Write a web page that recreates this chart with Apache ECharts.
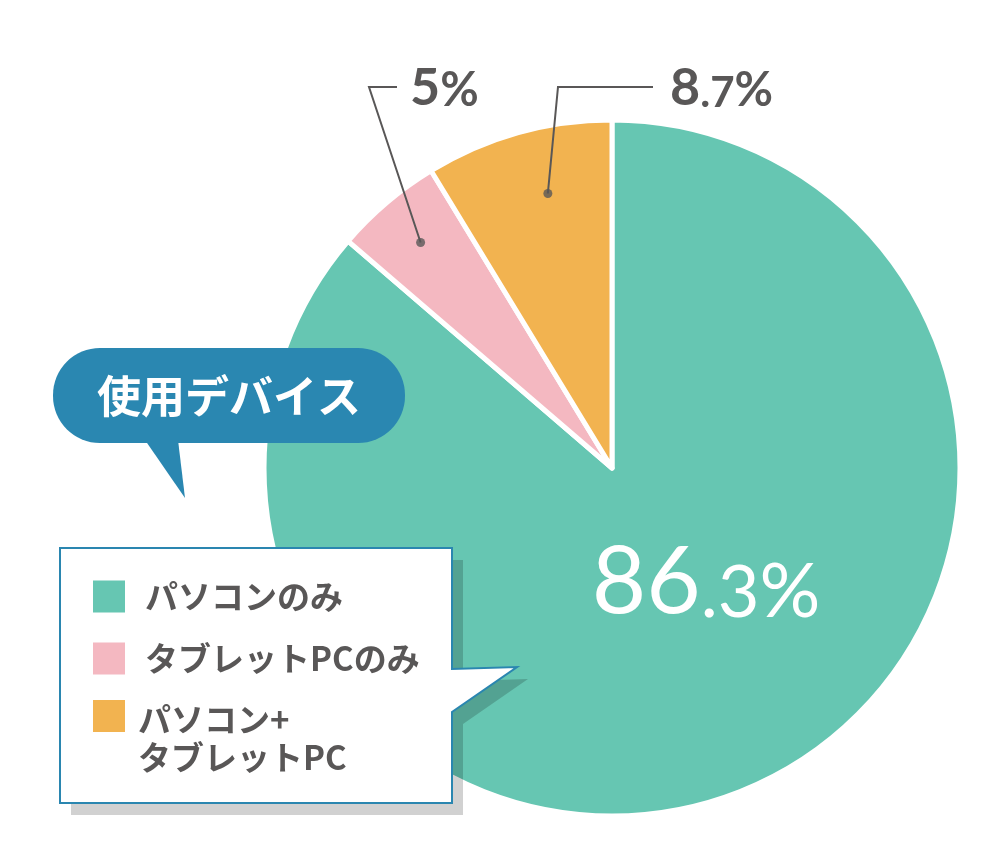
<!DOCTYPE html>
<html><head><meta charset="utf-8">
<script src="https://cdn.jsdelivr.net/npm/echarts@6/dist/echarts.min.js"></script>
<style>html,body{margin:0;padding:0;background:#fff}#c{width:1000px;height:860px}</style>
</head><body><div id="c"></div>
<script>
// ---- data ----
const categories = ['パソコンのみ', 'タブレットPCのみ', 'パソコン+\nタブレットPC'];
const values = [86.3, 5, 8.7];
const colors = ['#66c6b2', '#f4b8c1', '#f2b350'];
const bubbleTitle = '使用デバイス';

// ---- layout / style constants ----
const CX = 612, CY = 468, R = 348;
const TEXT = '#595757';
const BLUE = '#2a87b1';
const JP = '"Noto Sans CJK JP", sans-serif';
const NUM = 'Lato, "Noto Sans", sans-serif';
const dotRadiusFrac = [null, 0.85, 0.81];
const dotAngleFrac = [null, 0.5, 0.58];
// [elbowX, lineY, labelX, lineEndX, labelY] ; first item = inside label centre [x, y]
const labelAnchors = [[706, 599], [369, 87, 410, 397, 97], [558, 87, 670, 653, 97]];

const total = values.reduce((a, b) => a + b, 0);
const dotAngles = [];
let acc = 0;
values.forEach((v, i) => { dotAngles.push((acc + v * (dotAngleFrac[i] || 0.5)) / total * 100); acc += v; });

function dotPixel(i) {
  const th = dotAngles[i] / 100 * Math.PI * 2;
  const r = R * dotRadiusFrac[i];
  return [CX + r * Math.sin(th), CY - r * Math.cos(th)];
}
function fmt(v) {
  const parts = String(v).split('.');
  return '{a|' + parts[0] + '}' + (parts[1] ? '{d|.' + parts[1] + '}' : '') + '{p|%}';
}
function richSet(a, d, p, color, weight) {
  const mk = (f) => ({ fontSize: f, lineHeight: Math.round(f * 0.66), fontFamily: NUM, color: color, fontWeight: weight, verticalAlign: 'bottom' });
  return { a: mk(a), d: mk(d), p: mk(p) };
}

const basePieData = categories.map((c, i) => ({ name: c, value: values[i], itemStyle: { color: colors[i] } }));
const labelPieData = categories.map((c, i) => ({
  name: c,
  value: values[i],
  label: i === 0
    ? { position: 'inside', rich: richSet(94, 72, 76, '#fff', 'normal') }
    : { position: 'outside', rich: richSet(52, 42, 47, TEXT, 'bold') },
  labelLine: { show: i !== 0 }
}));

const dotData = values.map((v, i) => i === 0 ? null : [dotRadiusFrac[i], dotAngles[i]]).filter(Boolean);

const legendTops = [580, 642, 674];
const legends = categories.map((c, i) => ({
  data: [c],
  left: 93,
  top: legendTops[i],
  orient: 'vertical',
  padding: 0,
  itemWidth: 32,
  itemHeight: 32,
  icon: 'rect',
  selectedMode: false,
  z: 20,
  itemStyle: { borderWidth: 0 },
  formatter: function (name) {
    const lines = name.split('\n').map(s => '{t|' + s + '}');
    if (lines.length > 1) lines.unshift('{e| }');
    return lines.join('\n');
  },
  textStyle: {
    fontSize: 33, fontFamily: JP, fontWeight: 'bold', color: TEXT,
    padding: i === 2 ? [0, 0, 0, 8] : [0, 0, 0, 15],
    rich: {
      t: { fontSize: 33, fontFamily: JP, fontWeight: 'bold', color: TEXT, lineHeight: i === 2 ? 38 : 33 },
      e: { fontSize: 8, lineHeight: 44 }
    }
  }
}));

const boxPts = [[60, 548], [452, 548], [452, 669], [517, 667], [452, 712], [452, 803], [60, 803]];
const shadowPts = boxPts.map(p => [p[0] + 11, p[1] + 12]);

const chart = echarts.init(document.getElementById('c'), null, { renderer: 'canvas' });
chart.setOption({
  animation: false,
  backgroundColor: '#fff',
  legend: legends,
  polar: { center: [CX, CY], radius: R },
  angleAxis: { type: 'value', min: 0, max: 100, startAngle: 90, clockwise: true, show: false },
  radiusAxis: { type: 'value', min: 0, max: 1, show: false },
  graphic: [
    { type: 'polygon', z: 10, shape: { points: shadowPts }, style: { fill: 'rgba(0,0,0,0.18)' } },
    { type: 'polygon', z: 11, shape: { points: boxPts }, style: { fill: '#fff', stroke: '#2a86b0', lineWidth: 2 } },
    { type: 'rect', z: 10, shape: { x: 53, y: 348, width: 352, height: 95, r: 47 }, style: { fill: BLUE } },
    { type: 'polygon', z: 10, shape: { points: [[145, 440], [185, 498], [178, 440]] }, style: { fill: BLUE } },
    { type: 'text', z: 12, x: 229, y: 396, style: { text: bubbleTitle, fill: '#fff', fontSize: 44, fontWeight: 'bold', fontFamily: JP, align: 'center', verticalAlign: 'middle' } }
  ],
  series: [
    {
      type: 'pie',
      center: [CX, CY],
      radius: R,
      startAngle: 90,
      clockwise: true,
      silent: true,
      z: 2,
      itemStyle: { borderColor: '#fff', borderWidth: 5 },
      label: { show: false },
      labelLine: { show: false },
      data: basePieData
    },
    {
      type: 'pie',
      center: [CX, CY],
      radius: R,
      startAngle: 90,
      clockwise: true,
      silent: true,
      z: 4,
      avoidLabelOverlap: false,
      itemStyle: { color: 'rgba(0,0,0,0)', borderWidth: 0 },
      label: { show: true, formatter: p => fmt(p.value) },
      labelLine: { show: true, smooth: false, length: 10, length2: 10, lineStyle: { color: TEXT, width: 2 } },
      labelLayout: function (p) {
        const i = p.dataIndex;
        const a = labelAnchors[i];
        if (i === 0) return { x: a[0], y: a[1], align: 'center', verticalAlign: 'middle' };
        return {
          x: a[2], y: a[4], align: 'left', verticalAlign: 'middle',
          labelLinePoints: [dotPixel(i), [a[0], a[1]], [a[3], a[1]]]
        };
      },
      data: labelPieData
    },
    {
      type: 'scatter',
      coordinateSystem: 'polar',
      silent: true,
      z: 5,
      symbol: 'circle',
      symbolSize: 9,
      itemStyle: { color: TEXT },
      data: dotData
    }
  ]
});
</script>
</body></html>
